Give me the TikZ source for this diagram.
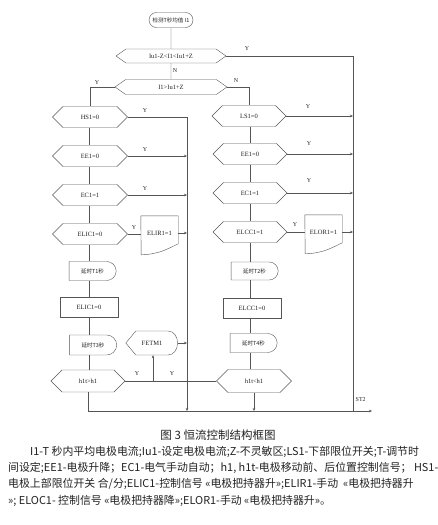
\documentclass[tikz,border=0pt]{standalone}
\usepackage{fontspec}
\setmainfont{Liberation Serif}
\newfontfamily\cjk{Noto Sans CJK SC}
\usetikzlibrary{
  arrows.meta,
  shapes.misc,
  shapes.symbols,
  positioning,
  calc
}
\definecolor{fcLine}{HTML}{555555}
\definecolor{fcText}{HTML}{222222}
\tikzset{
  fcnode/.style={
    draw=fcLine, inner sep=0pt, font=\fontsize{6.5}{7}\selectfont,
    align=center, fill=white, text=fcText
  },
  decision/.style={fcnode, signal, signal to=west and east,
    signal pointer angle=90, minimum width=75pt, minimum height=21pt},
  topdecision/.style={decision, signal pointer angle=70, minimum height=14pt},
  procbox/.style={fcnode, rectangle, minimum width=58pt, minimum height=20pt},
  delaybox/.style={fcnode, rounded rectangle, rounded rectangle left arc=none,
    minimum width=47pt, minimum height=19pt, font=\cjk\fontsize{5.5}{6}\selectfont},
  termbox/.style={fcnode, rounded rectangle, minimum width=44pt, minimum height=15pt,
    font=\cjk\fontsize{5.5}{6}\selectfont},
  docbox/.style={fcnode, draw=none, fill=none, minimum width=37pt, minimum height=34pt},
  dispbox/.style={fcnode, draw=none, fill=none, minimum width=52pt, minimum height=24pt},
  outline/.style={draw=fcLine, fill=white},
  flow/.style={-{Stealth[length=3pt, width=2.5pt]}, fcLine},
  netline/.style={fcLine},
  tag/.style={font=\fontsize{6}{6}\selectfont, inner sep=0.5pt, text=fcText},
  para/.style={font=\cjk\fontsize{10.9}{11}\selectfont, anchor=west, inner sep=0pt, text=fcText}
}

\begin{document}
\begin{tikzpicture}[x=1pt, y=-1pt]
  \fill[white] (0,0) rectangle (437,525);
  \useasboundingbox (0,0) rectangle (437,525);

  % bus lines and end points
  \coordinate (lcol) at (89,0);
  \coordinate (rcol) at (250,0);
  \coordinate (lbus) at (187,411);
  \coordinate (rbus) at (353,411);
  \coordinate (st2) at (372,411);
  \coordinate (jn) at (153,381);

  % top
  \node[termbox] (start) at (171,20) {检测T秒均值 I1};
  \node[topdecision, minimum width=110pt] (hexa) at (171,56) {Iu1-Z<I1<Iu1+Z};
  \node[topdecision, minimum width=112pt, minimum height=15pt] (hexb) at (171,87) {I1>Iu1+Z};

  % left column
  \node[decision] (hs1) at (90,117) {HS1=0};
  \node[decision] (ee1l) at (90,156) {EE1=0};
  \node[decision] (ec1l) at (90,195) {EC1=1};
  \node[decision] (elic) at (90,234) {ELIC1=0};
  \node[docbox] (elir) at (159.5,233) {ELIR1=1};
  \node[delaybox] (dlya) at (92.5,271) {延时T1秒};
  \node[procbox] (elicz) at (89,307) {ELIC1=0};
  \node[delaybox, minimum height=20pt] (dlyb) at (93,345) {延时T3秒};
  \node[decision, minimum width=74pt, minimum height=22pt] (h1l) at (88,381) {h1t>h1};
  \node[dispbox] (fetm) at (152,343) {FETM1};

  % right column
  \node[decision, minimum width=74pt] (ls1) at (249,116) {LS1=0};
  \node[decision, minimum width=74pt] (ee1r) at (250,154) {EE1=0};
  \node[decision, minimum width=74pt] (ec1r) at (250,193) {EC1=1};
  \node[decision, minimum width=74pt] (elcc) at (250,232) {ELCC1=1};
  \node[docbox] (elor) at (323.5,232) {ELOR1=1};
  \node[delaybox, minimum height=18pt] (dlyc) at (254.5,271) {延时T2秒};
  \node[procbox] (elccz) at (252,308) {ELCC1=0};
  \node[delaybox] (dlyd) at (253.5,343) {延时T4秒};
  \node[decision, minimum width=75pt, minimum height=23pt] (h1r) at (254,381) {h1t<h1};

  % document and display outlines
  \foreach \d in {elir, elor}
    \draw[outline] (\d.north west) -- (\d.north east) -- ++(0,28)
      .. controls +(-6,3) and +(6,-2) .. ++(-18,8)
      .. controls +(-7,2) and +(6,0) .. ++(-19,3) -- cycle;
  \draw[outline] (fetm.west) -- ++(10,-12) -- ++(32,0)
    .. controls +(13,0) and +(13,0) .. ++(0,24) -- ++(-32,0) -- cycle;
  \node[font=\fontsize{6.5}{7}\selectfont, text=fcText] at (fetm) {FETM1};
  \node[font=\fontsize{6.5}{7}\selectfont, text=fcText] at (elir) {ELIR1=1};
  \node[font=\fontsize{6.5}{7}\selectfont, text=fcText] at (elor) {ELOR1=1};

  % trunk
  \draw[netline] (start) -- (hexa);
  \draw[netline] (hexa) -- (hexb);
  \draw[netline] (hexa.east) -| (rbus);
  \draw[netline] (hexb.west) -| (hs1.north);
  \draw[netline] (hexb.east) -| (ls1.north);

  % columns
  \foreach \a/\b in {hs1/ee1l, ee1l/ec1l, ec1l/elic, elic/dlya, dlya/elicz, elicz/dlyb, dlyb/h1l}
    \draw[netline] (\a.south -| lcol) -- (\b.north -| lcol);
  \foreach \a/\b in {ls1/ee1r, ee1r/ec1r, ec1r/elcc, elcc/dlyc, dlyc/elccz, elccz/dlyd, dlyd/h1r}
    \draw[netline] (\a.south -| rcol) -- (\b.north -| rcol);

  % Y branches
  \draw[flow] (hs1.east) -| (lbus);
  \foreach \n in {ee1l, ec1l, elir, fetm}
    \draw[flow] (\n.east) -- (\n.east -| lbus);
  \draw[netline] (elic.east) -- (elic.east -| elir.west);
  \foreach \n in {ls1, ee1r, ec1r, elor}
    \draw[flow] (\n.east) -- (\n.east -| rbus);
  \draw[netline] (elcc.east) -- (elcc.east -| elor.west);
  \draw[netline] (h1l.east) -- (h1r.west);
  \draw[flow] (jn) -- (jn |- fetm.south);

  % exit
  \draw[flow] (h1l.south) |- (st2);
  \draw[flow] (h1r.south) -- (h1r.south |- st2);

  % labels
  \node[tag] (ta) at (247,49) {Y};
  \node[tag] (tb) at (175,71) {N};
  \node[tag] (tc) at (236,81) {N};
  \node[tag] (td) at (97,83) {Y};
  \node[tag] (te) at (145,111) {Y};
  \node[tag] (tf) at (145,150) {Y};
  \node[tag] (tg) at (145,189) {Y};
  \node[tag] (th) at (134,228) {Y};
  \node[tag] (ti) at (308,107) {Y};
  \node[tag] (tj) at (309,144) {Y};
  \node[tag] (tk) at (309,181) {Y};
  \node[tag] (tl) at (295,225) {Y};
  \node[tag] (tm) at (137,374) {Y};
  \node[tag] (tn) at (172,374) {Y};
  \node[tag, anchor=west] (to) at (355,400) {ST2};

  % caption
  \node[font=\cjk\fontsize{11.5}{12}\selectfont, text=fcText] (cap) at (218,435) {图 3 恒流控制结构框图};
  \node[para] (lna) at (30,452) {I1-T 秒内平均电极电流;Iu1-设定电极电流;Z-不灵敏区;LS1-下部限位开关;T-调节时};
  \node[para] (lnb) at (8,468) {间设定;EE1-电极升降；EC1-电气手动自动；h1, h1t-电极移动前、后位置控制信号； HS1-};
  \node[para] (lnc) at (8,484) {电极上部限位开关 合/分;ELIC1-控制信号 «电极把持器升»;ELIR1-手动 \ «电极把持器升};
  \node[para] (lnd) at (8,501) {»; ELOC1- 控制信号 «电极把持器降»;ELOR1-手动 «电极把持器升»。};
\end{tikzpicture}
\end{document}
